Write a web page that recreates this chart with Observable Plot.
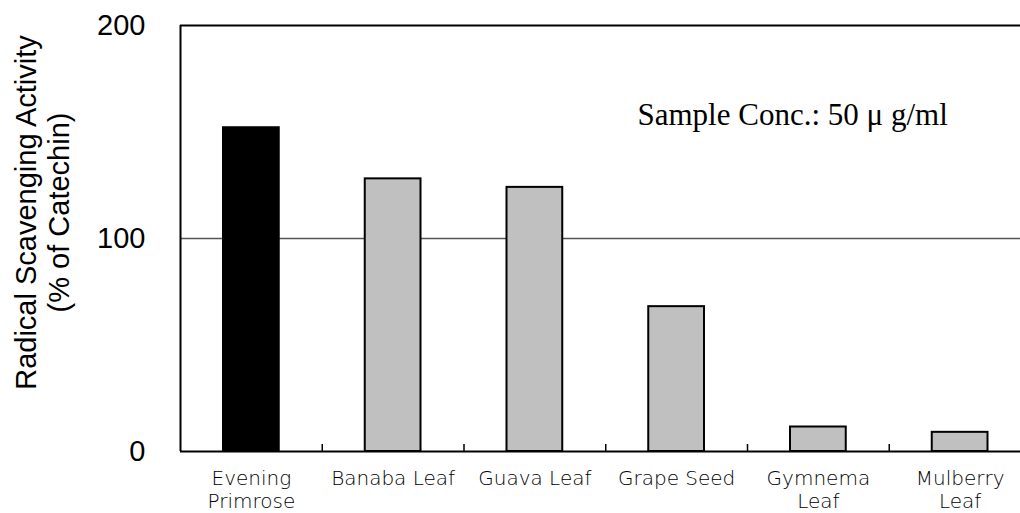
<!DOCTYPE html>
<html><head><meta charset="utf-8">
<script src="https://cdn.jsdelivr.net/npm/d3@7"></script>
<script src="https://cdn.jsdelivr.net/npm/@observablehq/plot@0.6"></script>
<style>html,body{margin:0;padding:0;background:#fff} svg{display:block}</style>
</head><body><div id="chart"></div>
<script>
const categories = ["Evening\nPrimrose", "Banaba Leaf", "Guava Leaf", "Grape Seed", "Gymnema\nLeaf", "Mulberry\nLeaf"];
const values = [152, 128, 124, 68, 11.5, 9];
const barColors = ["#000000", "#c0c0c0", "#c0c0c0", "#c0c0c0", "#c0c0c0", "#c0c0c0"];
const yTicks = [0, 100, 200];
const referenceLine = [100];
const yTitle = ["Radical Scavenging Activity", "(% of Catechin)"];
const annotation = "Sample Conc.: 50 μ g/ml";
const annotX = 3.224, annotY = 158;

const data = categories.map((c, i) => ({category: c, index: i, value: values[i], fill: barColors[i]}));
const tickPositions = d3.range(1, categories.length);

const chart = Plot.plot({
  width: 1020, height: 513,
  marginLeft: 180, marginRight: 0, marginTop: 25, marginBottom: 62,
  style: {background: "#fff", fontFamily: "'Liberation Sans', Arial, sans-serif", color: "#000"},
  x: {type: "linear", domain: [0, categories.length], range: [180, 1030.5], axis: null},
  y: {domain: [0, 200], axis: null},
  color: {type: "identity"},
  marks: [
    Plot.ruleY(referenceLine, {stroke: "#555", strokeWidth: 1.5}),
    Plot.rectY(data, {x1: "index", x2: d => d.index + 1, y: "value", fill: "fill", stroke: "#000", strokeWidth: 2, insetLeft: 43, insetRight: 43}),
    Plot.ruleY([0, 200], {stroke: "#000", strokeWidth: 2}),
    Plot.ruleX([0], {stroke: "#000", strokeWidth: 2}),
    Plot.axisX({ticks: tickPositions, tickSize: 7, dy: -7, tickFormat: () => "", label: null, strokeWidth: 1.5}),
    Plot.axisY({ticks: yTicks, tickSize: 0, tickPadding: 35, fontSize: 29, label: null, tickFormat: d => String(d)}),
    Plot.text([yTitle.join("\n")], {text: d => d, frameAnchor: "left", rotate: -90, dx: -139, dy: -26, fontSize: 29, lineHeight: 1.14, textAnchor: "middle", lineAnchor: "middle"}),
    Plot.text(data, {x: d => d.index + 0.5, text: "category", frameAnchor: "bottom", dy: 17, lineAnchor: "top", fontSize: 20, lineHeight: 1.15, fontFamily: "'DejaVu Sans'", fontWeight: 200, fill: "#000"}),
    Plot.text([annotation], {text: d => d, x: annotX, y: annotY, textAnchor: "start", lineAnchor: "middle", fontSize: 31, fontFamily: "'Liberation Serif', 'Times New Roman', serif"})
  ]
});
document.getElementById("chart").appendChild(chart);
</script>
</body></html>
